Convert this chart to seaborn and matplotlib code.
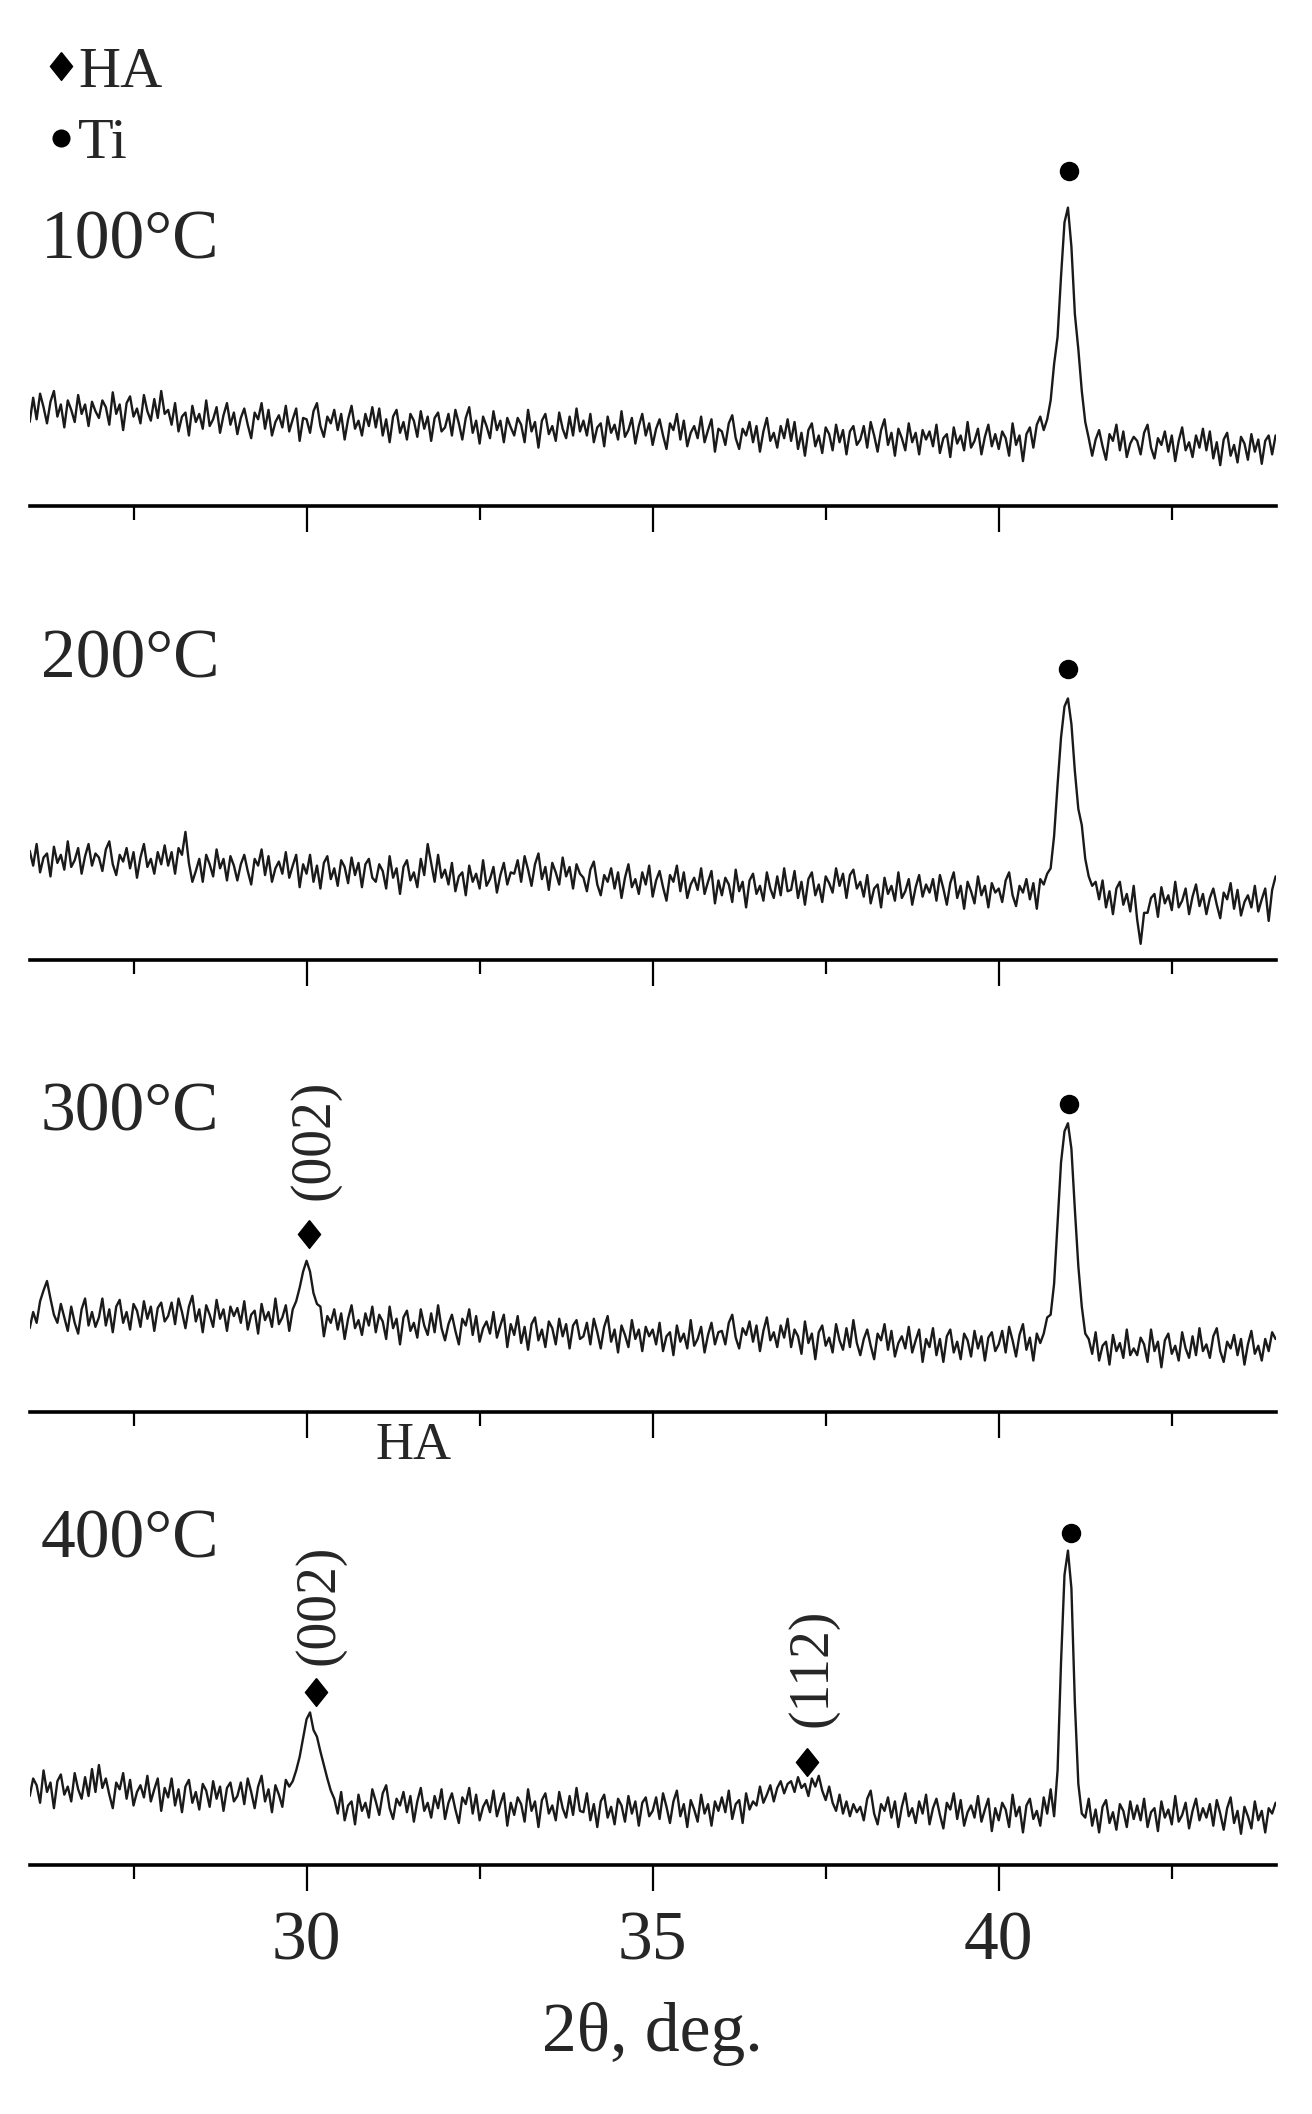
import numpy as np
import matplotlib
matplotlib.use('Agg')
import matplotlib.pyplot as plt
import seaborn as sns
from matplotlib.ticker import MultipleLocator
from matplotlib.lines import Line2D

# XRD patterns, 2theta 26..44 deg, step 0.05 deg (intensity in a.u.)
two_theta = np.round(np.linspace(26, 44, 361), 2)

i_100c = [
    62, 80, 64, 83, 73, 61, 77, 85, 66, 75, 58, 78, 71, 62, 82, 68, 75, 59, 77, 70,
    65, 78, 73, 60, 84, 68, 75, 56, 76, 81, 66, 72, 61, 82, 70, 63, 79, 65, 85, 68,
    71, 60, 76, 55, 66, 69, 52, 74, 62, 68, 57, 78, 59, 64, 73, 54, 67, 76, 60, 69,
    53, 65, 72, 60, 50, 69, 64, 76, 57, 71, 52, 62, 67, 58, 74, 55, 64, 72, 48, 65,
    64, 54, 70, 76, 59, 51, 66, 61, 71, 56, 68, 49, 64, 74, 57, 63, 52, 68, 59, 73,
    58, 72, 52, 64, 47, 66, 71, 54, 62, 49, 68, 63, 51, 70, 57, 66, 48, 65, 69, 55,
    58, 68, 52, 71, 61, 49, 65, 73, 54, 63, 46, 66, 59, 50, 70, 56, 63, 47, 65, 58,
    52, 65, 60, 47, 71, 55, 62, 43, 63, 68, 53, 59, 48, 69, 57, 50, 66, 52, 72, 55,
    63, 52, 68, 47, 58, 61, 44, 66, 54, 60, 49, 70, 51, 56, 65, 46, 59, 68, 52, 61,
    45, 57, 64, 52, 42, 61, 56, 68, 49, 63, 44, 54, 59, 50, 66, 47, 56, 64, 40, 57,
    55, 45, 61, 67, 50, 42, 57, 52, 62, 47, 59, 40, 55, 65, 48, 54, 43, 59, 50, 64,
    48, 62, 42, 54, 37, 56, 61, 44, 52, 39, 58, 53, 41, 60, 47, 56, 38, 55, 59, 45,
    49, 59, 43, 62, 52, 40, 56, 64, 45, 54, 37, 57, 50, 41, 61, 47, 54, 38, 56, 49,
    55, 44, 60, 39, 50, 53, 36, 58, 46, 52, 41, 62, 43, 48, 57, 38, 51, 60, 44, 53,
    42, 55, 50, 37, 61, 45, 52, 33, 53, 58, 43, 60, 66, 56, 64, 78, 105, 125, 170, 210,
    221, 192, 142, 116, 85, 62, 50, 37, 49, 56, 44, 34, 53, 48, 60, 41, 55, 36, 46, 51,
    48, 38, 54, 60, 43, 35, 50, 45, 55, 40, 52, 33, 48, 58, 41, 47, 36, 52, 43, 57,
    41, 55, 35, 47, 30, 49, 54, 37, 45, 32, 51, 46, 34, 53, 40, 49, 31, 48, 52, 38,
    52,
]

i_200c = [
    81, 70, 86, 65, 76, 79, 62, 84, 72, 78, 67, 88, 69, 74, 83, 64, 77, 86, 70, 79,
    76, 66, 82, 88, 71, 63, 78, 73, 83, 68, 80, 61, 76, 86, 69, 75, 64, 80, 71, 85,
    70, 80, 64, 83, 78, 95, 72, 58, 66, 75, 58, 78, 71, 62, 82, 68, 75, 59, 77, 70,
    59, 71, 78, 66, 56, 75, 70, 82, 63, 77, 58, 68, 73, 64, 80, 61, 70, 78, 54, 71,
    64, 78, 58, 70, 53, 72, 77, 60, 68, 55, 74, 69, 57, 76, 63, 72, 54, 71, 75, 61,
    58, 71, 66, 53, 77, 61, 68, 49, 69, 74, 59, 65, 54, 75, 63, 86, 72, 58, 78, 61,
    67, 56, 72, 51, 62, 65, 48, 70, 58, 64, 53, 74, 55, 60, 69, 50, 63, 72, 56, 65,
    64, 74, 58, 77, 67, 55, 71, 79, 60, 69, 52, 72, 65, 56, 76, 62, 69, 53, 71, 64,
    61, 51, 67, 73, 56, 48, 63, 58, 68, 53, 65, 46, 61, 71, 54, 60, 49, 65, 56, 70,
    47, 59, 66, 54, 44, 63, 58, 70, 51, 65, 46, 56, 61, 52, 68, 49, 58, 66, 42, 59,
    48, 61, 56, 43, 67, 51, 58, 39, 59, 64, 49, 55, 44, 65, 53, 46, 62, 48, 68, 51,
    52, 66, 46, 58, 41, 60, 65, 48, 56, 43, 62, 57, 50, 68, 55, 64, 46, 63, 67, 53,
    58, 47, 63, 42, 53, 56, 39, 61, 49, 55, 44, 65, 46, 51, 60, 41, 54, 63, 47, 56,
    50, 60, 44, 63, 53, 41, 57, 65, 46, 55, 38, 58, 51, 42, 62, 48, 55, 39, 57, 50,
    53, 43, 59, 65, 48, 40, 55, 50, 60, 45, 57, 38, 60, 56, 64, 68, 92, 130, 165, 188,
    194, 175, 140, 112, 100, 75, 62, 55, 58, 45, 59, 39, 51, 34, 53, 58, 41, 49, 36, 55,
    30, 12, 35, 35, 46, 49, 32, 54, 42, 48, 37, 58, 39, 44, 53, 34, 47, 56, 40, 49,
    34, 46, 53, 41, 31, 50, 45, 57, 38, 52, 33, 43, 48, 39, 55, 36, 45, 53, 29, 52,
    62,
]

i_300c = [
    62, 74, 66, 82, 90, 97, 84, 72, 66, 80, 70, 60, 78, 66, 58, 76, 84, 64, 74, 63,
    70, 84, 64, 76, 59, 78, 83, 66, 74, 61, 80, 75, 63, 82, 69, 78, 60, 77, 81, 67,
    71, 81, 65, 84, 74, 62, 78, 86, 67, 76, 59, 79, 72, 63, 83, 69, 76, 60, 78, 71,
    77, 66, 82, 61, 72, 75, 58, 80, 68, 74, 63, 84, 65, 70, 79, 60, 76, 82, 92, 104,
    112, 104, 88, 80, 78, 56, 71, 66, 76, 61, 73, 54, 69, 79, 62, 68, 57, 73, 64, 78,
    59, 72, 67, 54, 78, 62, 69, 50, 70, 75, 60, 66, 55, 76, 64, 57, 73, 59, 79, 62,
    53, 65, 72, 60, 50, 69, 64, 76, 57, 71, 52, 62, 67, 58, 74, 55, 64, 72, 48, 65,
    57, 71, 51, 63, 46, 65, 70, 53, 61, 48, 67, 62, 50, 69, 56, 65, 47, 64, 68, 54,
    56, 66, 50, 69, 59, 47, 63, 71, 52, 61, 44, 64, 57, 48, 68, 54, 61, 45, 63, 56,
    61, 50, 66, 45, 56, 59, 42, 64, 52, 58, 47, 68, 49, 54, 63, 44, 57, 66, 50, 59,
    60, 50, 66, 72, 55, 47, 62, 57, 67, 52, 64, 45, 60, 70, 53, 59, 48, 64, 55, 69,
    48, 61, 56, 43, 67, 51, 58, 39, 59, 64, 49, 55, 44, 65, 53, 46, 62, 48, 68, 51,
    42, 54, 61, 49, 39, 58, 53, 65, 46, 60, 41, 51, 56, 47, 63, 44, 53, 61, 37, 54,
    48, 62, 42, 54, 37, 56, 61, 44, 52, 39, 58, 53, 41, 60, 47, 56, 38, 55, 59, 45,
    50, 60, 44, 63, 53, 41, 57, 65, 46, 55, 38, 58, 51, 58, 70, 72, 95, 140, 185, 208,
    214, 195, 150, 108, 78, 58, 54, 43, 59, 38, 49, 52, 35, 57, 45, 51, 40, 61, 42, 47,
    42, 55, 50, 37, 61, 45, 52, 33, 53, 58, 43, 49, 38, 59, 47, 40, 56, 42, 62, 45,
    50, 40, 56, 62, 45, 37, 52, 47, 57, 42, 54, 35, 50, 60, 43, 49, 38, 54, 45, 59,
    54,
]

i_400c = [
    51, 64, 59, 46, 70, 54, 61, 42, 62, 67, 52, 58, 47, 68, 56, 49, 65, 51, 71, 54,
    74, 57, 64, 52, 42, 61, 56, 68, 49, 63, 44, 54, 59, 50, 66, 47, 56, 64, 40, 57,
    50, 64, 44, 56, 39, 58, 63, 46, 54, 41, 60, 55, 43, 62, 49, 58, 40, 57, 61, 47,
    51, 61, 45, 64, 54, 42, 58, 66, 47, 56, 39, 59, 52, 43, 63, 58, 62, 70, 80, 94,
    108, 113, 100, 95, 84, 74, 64, 55, 49, 38, 54, 33, 44, 47, 30, 52, 40, 46, 35, 56,
    47, 37, 53, 59, 42, 34, 49, 44, 54, 39, 51, 32, 47, 57, 40, 46, 35, 51, 42, 56,
    34, 46, 53, 41, 31, 50, 45, 57, 38, 52, 33, 43, 48, 39, 55, 36, 45, 53, 29, 46,
    37, 50, 45, 32, 56, 40, 47, 28, 48, 53, 38, 44, 33, 54, 42, 35, 51, 37, 57, 40,
    39, 53, 33, 45, 28, 47, 52, 35, 43, 30, 49, 44, 32, 51, 38, 47, 29, 46, 50, 36,
    40, 50, 34, 53, 43, 31, 47, 55, 36, 45, 28, 48, 41, 32, 52, 38, 45, 29, 47, 40,
    50, 39, 55, 34, 45, 48, 31, 53, 41, 47, 44, 58, 46, 52, 59, 47, 57, 62, 53, 60,
    62, 54, 65, 57, 60, 51, 64, 58, 66, 55, 48, 58, 46, 40, 52, 38, 47, 36, 45, 39,
    43, 33, 49, 55, 38, 30, 45, 40, 50, 35, 47, 28, 43, 53, 36, 42, 31, 47, 38, 52,
    30, 42, 49, 37, 27, 46, 41, 53, 34, 48, 29, 39, 44, 35, 51, 32, 41, 49, 25, 42,
    33, 46, 41, 28, 52, 36, 43, 24, 44, 49, 34, 40, 29, 50, 38, 56, 36, 70, 150, 215,
    233, 205, 120, 60, 38, 35, 49, 29, 41, 24, 43, 48, 31, 39, 26, 45, 40, 28, 47, 34,
    44, 33, 49, 28, 39, 42, 25, 47, 35, 41, 30, 51, 32, 37, 46, 27, 40, 49, 33, 42,
    35, 45, 29, 48, 38, 26, 42, 50, 31, 40, 23, 43, 36, 27, 47, 33, 40, 24, 42, 38,
    46,
]

patterns = [i_100c, i_200c, i_300c, i_400c]
samples = ['100°C', '200°C', '300°C', '400°C']
sample_label_heights = [196, 222, 221, 240]

# Ti reflection marks (one per pattern)
ti_pos = [41.01, 41.00, 41.01, 41.05]
ti_mark_heights = [248, 216, 228, 246]

# HA reflection marks
ha_panel = [2, 3, 3]
ha_pos = [30.03, 30.13, 37.23]
ha_mark_heights = [132, 128, 76]
ha_hkl = ['(002)', '(002)', '(112)']
ha_hkl_pos = [30.11, 30.19, 37.31]
ha_hkl_heights = [202, 193, 146]

sns.set_style('ticks')
plt.rcParams['font.family'] = ['Liberation Serif', 'DejaVu Sans']

W, H = 1312, 2114
fig = plt.figure(figsize=(W / 100, H / 100), dpi=100)
fig.patch.set_facecolor('white')

diamond = [(0, 1), (0.8, 0), (0, -1), (-0.8, 0), (0, 1)]
line_color = '#1a1a1a'

# baseline of each panel, pixels from top
axis_line_px = [505.6, 960.0, 1411.8, 1864.8]
panel_h = 300 * 1.3484

axes = []
for k, vals in enumerate(patterns):
    ax = fig.add_axes([29.7 / W, 1 - axis_line_px[k] / H,
                       (1275.6 - 29.7) / W, panel_h / H])
    axes.append(ax)

    sns.lineplot(x=two_theta, y=vals, ax=ax, color=line_color, linewidth=1.7)

    ax.set_xlim(26, 44)
    ax.set_ylim(0, 300)
    ax.set_facecolor('none')
    for s in ['top', 'left', 'right']:
        ax.spines[s].set_visible(False)
    ax.spines['bottom'].set_linewidth(2.6)
    ax.spines['bottom'].set_color('black')
    ax.set_yticks([])
    ax.set_ylabel('')
    ax.xaxis.set_major_locator(MultipleLocator(5))
    ax.xaxis.set_minor_locator(MultipleLocator(2.5))
    ax.tick_params(axis='x', which='major', direction='out', length=19,
                   width=1.6, color='black', labelsize=50, pad=14)
    ax.tick_params(axis='x', which='minor', direction='out', length=10,
                   width=1.6, color='black')
    if k < 3:
        ax.tick_params(axis='x', labelbottom=False)
        ax.set_xlabel('')

    ax.text(26.16, sample_label_heights[k], samples[k], fontsize=50,
            ha='left', va='center')

    ax.plot(ti_pos[k], ti_mark_heights[k], marker='o', markersize=13,
            color='black', linestyle='none')

for p, x, h, hkl, tx, th in zip(ha_panel, ha_pos, ha_mark_heights,
                                ha_hkl, ha_hkl_pos, ha_hkl_heights):
    ax = axes[p]
    ax.plot(x, h, marker=diamond, markersize=20, color='black',
            linestyle='none')
    ax.text(tx, th, hkl, fontsize=40, rotation=90, ha='center', va='center')

axes[2].text(31.54, -25, 'HA', fontsize=38, ha='center', va='center',
             clip_on=False)

axes[3].set_xlabel('2θ, deg.', fontsize=50, labelpad=20)

handles = [
    Line2D([], [], marker=diamond, markersize=20, color='black', linestyle='none'),
    Line2D([], [], marker='o', markersize=12, color='black', linestyle='none'),
]
fig.legend(handles, ['HA', 'Ti'], loc='upper left',
           bbox_to_anchor=(46 / W, 1 - 46 / H), frameon=False,
           fontsize=42, handlelength=0.5, handletextpad=0.05,
           labelspacing=0.32, borderaxespad=0, borderpad=0)

fig.savefig('out.png', dpi=100)
